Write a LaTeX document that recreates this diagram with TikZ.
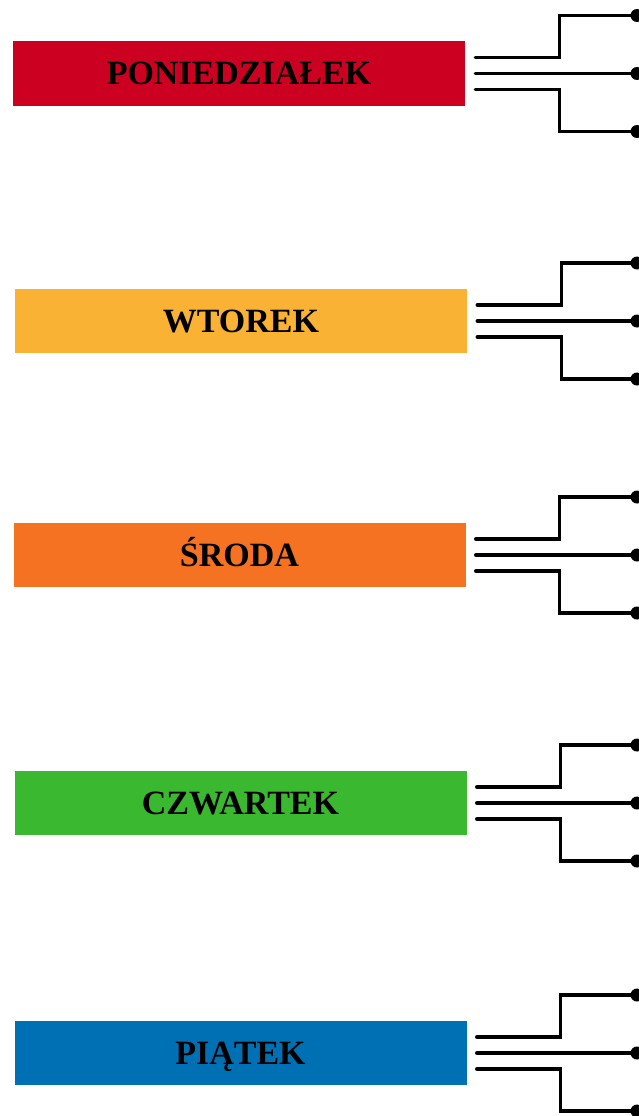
\documentclass[tikz,border=0pt]{standalone}
\usepackage{fontspec}
\setmainfont{Liberation Serif}
\usetikzlibrary{calc}
\definecolor{cred}{HTML}{CC0020}
\definecolor{cyellow}{HTML}{F9B233}
\definecolor{corange}{HTML}{F47221}
\definecolor{cgreen}{HTML}{3AB82F}
\definecolor{cblue}{HTML}{0070B5}
\begin{document}
\begin{tikzpicture}[x=1pt,y=-1pt,
  day/.style={minimum width=452pt,minimum height=64pt,inner sep=0pt,text height=22.5pt,text depth=0pt,font=\fontsize{34}{40}\selectfont\bfseries},
  wire/.style={line width=3.3pt,line cap=round,line join=miter},
  dot/.style={circle,fill=black,inner sep=0pt,minimum size=13pt}]
\useasboundingbox (0,0) rectangle (639,1116);
\foreach \n/\c/\x/\y/\t in {a/cred/239/73.5/PONIEDZIAŁEK,b/cyellow/241/321/WTOREK,c/corange/239.5/555/ŚRODA,d/cgreen/240.5/803/CZWARTEK,e/cblue/240.5/1053/PIĄTEK}{
  \node[day,fill=\c] (\n) at (\x,\y) {\t};
  \node[dot] (\n1) at (637,\y-58) {};
  \node[dot] (\n2) at (637,\y) {};
  \node[dot] (\n3) at (637,\y+58) {};
  \draw[wire] ($(\n.east)+(10,-16)$) -- ++(84,0) |- (\n1.center);
  \draw[wire] ($(\n.east)+(10,0)$) -- (\n2.center);
  \draw[wire] ($(\n.east)+(10,16)$) -- ++(84,0) |- (\n3.center);
}
\end{tikzpicture}
\end{document}
